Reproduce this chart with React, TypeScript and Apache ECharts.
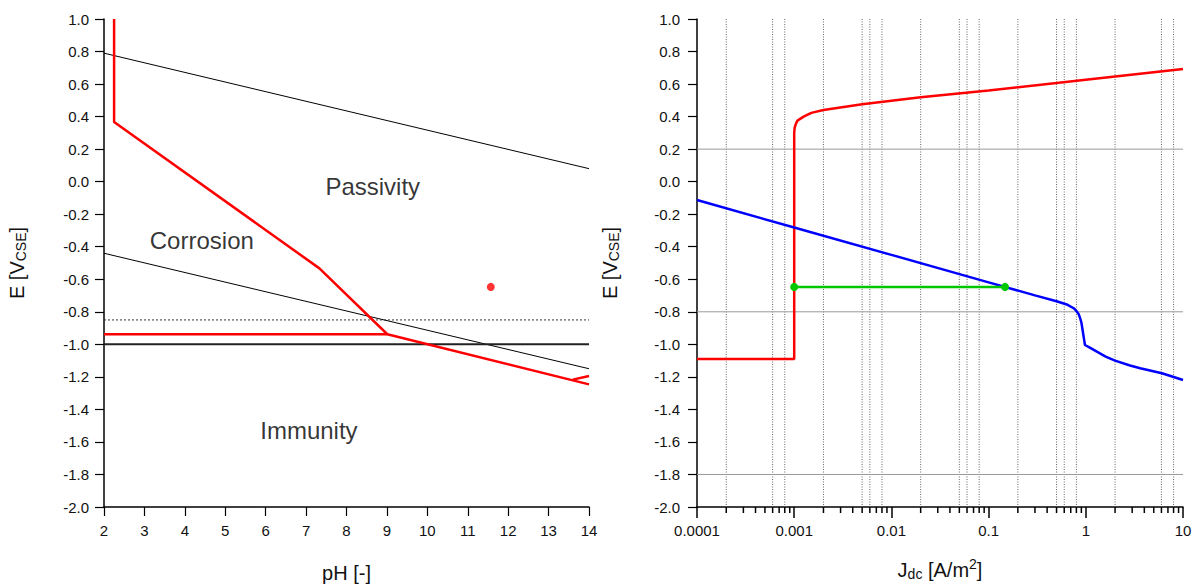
import React, { useEffect, useRef } from "react";
import * as echarts from "echarts";

// ---------- Left chart (Pourbaix) data ----------
const phTicks = [2, 3, 4, 5, 6, 7, 8, 9, 10, 11, 12, 13, 14];
const waterUpper = [[2, 0.79], [14, 0.08]];
const waterLower = [[2, -0.44], [14, -1.15]];
const protectionDotted = [[2, -0.85], [14, -0.85]];
const protectionSolid = [[2, -1.0], [14, -1.0]];
const redBoundary = [[2.25, 1.0], [2.25, 0.367], [7.33, -0.533], [9.01, -0.938], [14, -1.246]];
const redFlat = [[2, -0.938], [9.01, -0.938]];
const redBranch = [[13.6, -1.217], [14, -1.195]];
const redPoint = [[11.57, -0.647]];
const regionNames = ["Passivity", "Corrosion", "Immunity"];
const regionCoords = [[8.65, -0.03], [4.42, -0.36], [7.07, -1.527]];

// ---------- Right chart (polarisation) data ----------
const jLabels = ["0.0001", "0.001", "0.01", "0.1", "1", "10"];
const anodicCurve = [
  [0.0001, -1.09], [0.001, -1.09], [0.001, 0.3], [0.00101, 0.33], [0.00104, 0.355],
  [0.00108, 0.375], [0.00125, 0.4], [0.0015, 0.423], [0.002, 0.44], [0.005, 0.476],
  [0.02, 0.519], [0.1, 0.56], [1, 0.627], [10, 0.693],
];
const cathodicCurve = [
  [0.0001, -0.113], [0.001, -0.282], [0.01, -0.45], [0.1, -0.619], [0.3, -0.699],
  [0.5, -0.735], [0.65, -0.757], [0.75, -0.778], [0.8, -0.795], [0.84, -0.812],
  [0.87, -0.835], [0.9, -0.865], [0.92, -0.9], [0.944, -0.943], [0.98, -1.004],
  [1.1, -1.02], [1.3, -1.045], [1.6, -1.075], [2, -1.1], [2.85, -1.13],
  [3.63, -1.147], [6.07, -1.178], [10, -1.219],
];
const operatingLine = [[0.001, -0.647], [0.1475, -0.647]];
const verticalGrid = [
  0.0002, 0.0006, 0.0008, 0.002, 0.005, 0.006, 0.008, 0.02, 0.05, 0.06, 0.08,
  0.2, 0.5, 0.6, 0.8, 2, 6, 8,
];
const horizontalGrid = [0.2, -0.8, -1.8];
const minorTickValues = [
  0.0002, 0.0003, 0.0004, 0.0005, 0.0006, 0.0007, 0.0008, 0.0009,
  0.002, 0.003, 0.004, 0.005, 0.006, 0.007, 0.008, 0.009,
  0.02, 0.03, 0.04, 0.05, 0.06, 0.07, 0.08, 0.09,
  0.2, 0.3, 0.4, 0.5, 0.6, 0.7, 0.8, 0.9,
  2, 3, 4, 5, 6, 7, 8, 9,
];

const FONT = "Liberation Sans, Arial, Helvetica, sans-serif";

export default function App() {
  const ref = useRef<HTMLDivElement>(null);

  useEffect(() => {
    if (!ref.current) return;
    const chart = echarts.init(ref.current, undefined, { renderer: "svg" });

    const yAxisCommon = (gridIndex: number, labelMargin: number) => ({
      type: "value",
      gridIndex,
      min: -2,
      max: 1,
      interval: 0.2,
      name: "{a|E [V}{b|CSE}{a|]}",
      nameLocation: "middle",
      nameGap: 76,
      nameTextStyle: {
        rich: {
          a: { fontSize: 20, fontFamily: FONT, color: "#111" },
          b: { fontSize: 14, fontFamily: FONT, color: "#111", padding: [9, 0, 0, 0] },
        },
      },
      axisLine: { show: true, lineStyle: { color: "#000", width: 1.5 } },
      axisTick: { show: true, length: 9, lineStyle: { color: "#000", width: 1.2 } },
      axisLabel: {
        margin: labelMargin,
        fontSize: 15,
        fontFamily: FONT,
        color: "#111",
        formatter: (v: number) => v.toFixed(1),
      },
      splitLine: { show: false },
    });

    const option: any = {
      animation: false,
      backgroundColor: "#fff",
      grid: [
        { left: 104, top: 19, width: 485, height: 488, containLabel: false, outerBoundsMode: "none" },
        { left: 697, top: 19, width: 486, height: 488, containLabel: false, outerBoundsMode: "none" },
      ],
      xAxis: [
        {
          type: "value",
          gridIndex: 0,
          min: 2,
          max: 14,
          interval: 1,
          name: "pH [-]",
          nameLocation: "middle",
          nameGap: 56,
          nameTextStyle: { fontSize: 20, fontFamily: FONT, color: "#111" },
          axisLine: { show: true, onZero: false, lineStyle: { color: "#000", width: 1.5 } },
          axisTick: { show: true, length: 9, lineStyle: { color: "#000", width: 1.2 } },
          axisLabel: {
            margin: 16,
            fontSize: 15,
            fontFamily: FONT,
            color: "#111",
            formatter: (v: number) => (phTicks.includes(v) ? String(v) : ""),
          },
          splitLine: { show: false },
        },
        {
          type: "log",
          gridIndex: 1,
          logBase: 10,
          min: 0.0001,
          max: 10,
          name: "{a|J}{b|dc}{a| [A/m}{c|2}{a|]}",
          nameLocation: "middle",
          nameGap: 50,
          nameTextStyle: {
            rich: {
              a: { fontSize: 20, fontFamily: FONT, color: "#111" },
              b: { fontSize: 14, fontFamily: FONT, color: "#111", padding: [8, 0, 0, 0] },
              c: { fontSize: 14, fontFamily: FONT, color: "#111", padding: [0, 0, 11, 0] },
            },
          },
          axisLine: { show: true, onZero: false, lineStyle: { color: "#000", width: 1.5 } },
          axisTick: { show: true, length: 11, lineStyle: { color: "#000", width: 1.5 } },
          axisLabel: {
            margin: 16,
            fontSize: 15,
            fontFamily: FONT,
            color: "#111",
            formatter: (v: number) => {
              const i = Math.round(Math.log10(v)) + 4;
              return jLabels[i] ?? "";
            },
          },
          splitLine: { show: false },
        },
      ],
      yAxis: [yAxisCommon(0, 15), yAxisCommon(1, 17)],
      series: [
        // ---- left chart ----
        {
          type: "line", xAxisIndex: 0, yAxisIndex: 0, data: waterUpper, symbol: "none",
          lineStyle: { color: "#000", width: 1 }, z: 2,
        },
        {
          type: "line", xAxisIndex: 0, yAxisIndex: 0, data: waterLower, symbol: "none",
          lineStyle: { color: "#000", width: 1 }, z: 2,
        },
        {
          type: "line", xAxisIndex: 0, yAxisIndex: 0, data: protectionDotted, symbol: "none",
          lineStyle: { color: "#333", width: 1, type: [2, 2] }, z: 2,
        },
        {
          type: "line", xAxisIndex: 0, yAxisIndex: 0, data: protectionSolid, symbol: "none",
          lineStyle: { color: "#222", width: 2 }, z: 2,
        },
        {
          type: "line", xAxisIndex: 0, yAxisIndex: 0, data: redBoundary, symbol: "none",
          lineStyle: { color: "#ff0000", width: 2.5 }, z: 3,
        },
        {
          type: "line", xAxisIndex: 0, yAxisIndex: 0, data: redFlat, symbol: "none",
          lineStyle: { color: "#ff0000", width: 2.5 }, z: 3,
        },
        {
          type: "line", xAxisIndex: 0, yAxisIndex: 0, data: redBranch, symbol: "none",
          lineStyle: { color: "#ff0000", width: 2.5 }, z: 3,
        },
        {
          type: "scatter", xAxisIndex: 0, yAxisIndex: 0, data: redPoint, symbolSize: 8,
          itemStyle: { color: "#ff0000" }, z: 4,
        },
        {
          type: "scatter", xAxisIndex: 0, yAxisIndex: 0, symbolSize: 1,
          itemStyle: { color: "rgba(0,0,0,0)" },
          data: regionNames.map((n, i) => ({ name: n, value: regionCoords[i] })),
          label: {
            show: true, position: "inside", formatter: "{b}",
            fontSize: 24, fontFamily: FONT, color: "#000",
          },
          z: 5,
        },
        // ---- right chart ----
        {
          type: "custom", xAxisIndex: 1, yAxisIndex: 1, silent: true, z: 1,
          data: verticalGrid.map((v) => [v, 1]),
          renderItem: (_p: any, api: any) => {
            const a = api.coord([api.value(0), 1]);
            const b = api.coord([api.value(0), -2]);
            return {
              type: "line",
              shape: { x1: a[0], y1: a[1], x2: b[0], y2: b[1] },
              style: { stroke: "#666", lineWidth: 1, lineDash: [1, 1.5] },
            };
          },
        },
        {
          type: "custom", xAxisIndex: 1, yAxisIndex: 1, silent: true, z: 1,
          data: horizontalGrid.map((v) => [1, v]),
          renderItem: (_p: any, api: any) => {
            const a = api.coord([0.0001, api.value(1)]);
            const b = api.coord([10, api.value(1)]);
            return {
              type: "line",
              shape: { x1: a[0], y1: a[1], x2: b[0], y2: b[1] },
              style: { stroke: "#999", lineWidth: 1 },
            };
          },
        },
        {
          type: "custom", xAxisIndex: 1, yAxisIndex: 1, silent: true, z: 6, clip: false,
          data: minorTickValues.map((v) => [v, -2]),
          renderItem: (_p: any, api: any) => {
            const a = api.coord([api.value(0), -2]);
            return {
              type: "line",
              shape: { x1: a[0], y1: a[1], x2: a[0], y2: a[1] + 6 },
              style: { stroke: "#000", lineWidth: 1.5 },
            };
          },
        },
        {
          type: "line", xAxisIndex: 1, yAxisIndex: 1, data: anodicCurve, symbol: "none",
          lineStyle: { color: "#ff0000", width: 2.5 }, z: 3,
        },
        {
          type: "line", xAxisIndex: 1, yAxisIndex: 1, data: cathodicCurve, symbol: "none",
          lineStyle: { color: "#0000ff", width: 2.5 }, z: 3,
        },
        {
          type: "line", xAxisIndex: 1, yAxisIndex: 1, data: operatingLine,
          symbol: "circle", symbolSize: 8, showSymbol: true,
          itemStyle: { color: "#00c800" },
          lineStyle: { color: "#00c800", width: 2.5 }, z: 4,
        },
      ],
    };

    chart.setOption(option);
    return () => chart.dispose();
  }, []);

  return (
    <div
      ref={ref}
      style={{ position: "fixed", left: 0, top: 0, width: 1197, height: 585, background: "#fff" }}
    />
  );
}
